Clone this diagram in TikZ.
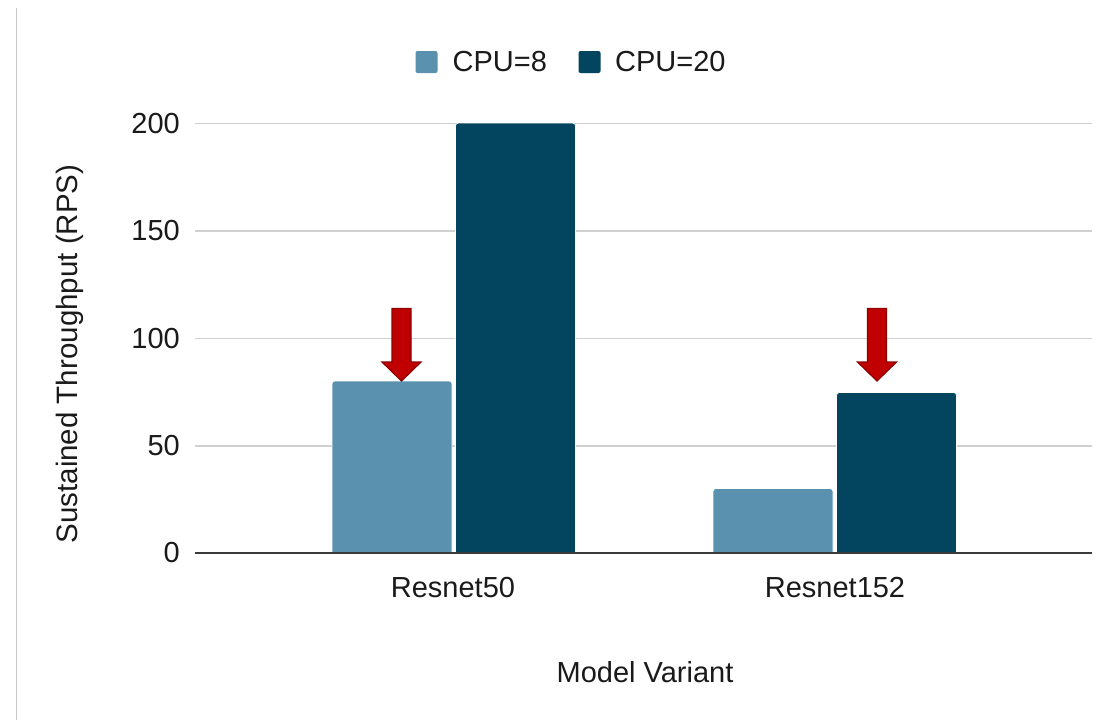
\documentclass[tikz,border=0pt]{standalone}
\usepackage{fontspec}
\setmainfont{Liberation Sans}
\definecolor{barlight}{HTML}{5A91AF}
\definecolor{bardark}{HTML}{03455F}
\definecolor{gridgray}{HTML}{D0D0D0}
\definecolor{axisgray}{HTML}{3A3A3A}
\definecolor{framegray}{HTML}{C8C8C8}
\definecolor{markred}{HTML}{C00000}
\definecolor{markedge}{HTML}{8E0000}
\definecolor{inktext}{HTML}{1A1A1A}
\begin{document}
\begin{tikzpicture}[x=1pt,y=-1pt,
  lbl/.style={font=\fontsize{29}{34}\selectfont, text=inktext, inner sep=0pt},
  ticklbl/.style={lbl, anchor=east},
  gridline/.style={draw=gridgray, line width=1.5pt},
  barA/.style={fill=barlight, draw=white, line width=0.6pt, rounded corners=3pt},
  barB/.style={fill=bardark, draw=white, line width=0.6pt, rounded corners=3pt},
  keybox/.style={minimum size=22pt, inner sep=0pt, rounded corners=2pt},
  downmark/.style={fill=markred, draw=markedge, line width=1.2pt, line join=miter}]
\useasboundingbox (0,0) rectangle (1107,720);
\fill[white] (0,0) rectangle (1107,720);

% frame edge on the left
\draw[framegray, line width=1.2pt] (16.5,8) -- (16.5,720);

% horizontal grid and value labels
\foreach \v/\yy in {50/446, 100/338.5, 150/231, 200/123.5} {
  \draw[gridline] (195,\yy) -- (1092,\yy);
  \node[ticklbl] at (180,\yy) {\v};
}
\node[ticklbl] (t0) at (180,553) {0};

% bars (value scale: 2.15 px per unit, zero at y=553)
\fill[barA] (332,553) -- (332,381) -- (452,381) -- (452,553);
\fill[barB] (455.5,553) -- (455.5,123) -- (575.5,123) -- (575.5,553);
\fill[barA] (713,553) -- (713,488.5) -- (833,488.5) -- (833,553);
\fill[barB] (836.5,553) -- (836.5,392.5) -- (956.5,392.5) -- (956.5,553);

% baseline
\draw[axisgray, line width=1.8pt] (195,553) -- (1092,553);

% highlight arrows
\draw[downmark] (392,308.5) -- (411,308.5) -- (411,362) -- (421,362) -- (401.5,381)
  -- (382,362) -- (392,362) -- cycle;
\draw[downmark] (867.5,308.5) -- (886.5,308.5) -- (886.5,362) -- (896.5,362) -- (877,381)
  -- (857.5,362) -- (867.5,362) -- cycle;

% category labels
\node[lbl] (c1) at (453,588) {Resnet50};
\node[lbl] (c2) at (835,588) {Resnet152};

% axis titles
\node[lbl] (xt) at (645,672) {Model Variant};
\node[lbl, rotate=90, font=\fontsize{29.5}{34}\selectfont] (yt) at (70,354) {Sustained Throughput (RPS)};

% legend
\node[keybox, fill=barlight] (k1) at (426.5,62) {};
\node[lbl, anchor=west] (l1) at (452.5,62) {CPU=8};
\node[keybox, fill=bardark] (k2) at (589.5,62) {};
\node[lbl, anchor=west] (l2) at (615,62) {CPU=20};
\end{tikzpicture}
\end{document}
